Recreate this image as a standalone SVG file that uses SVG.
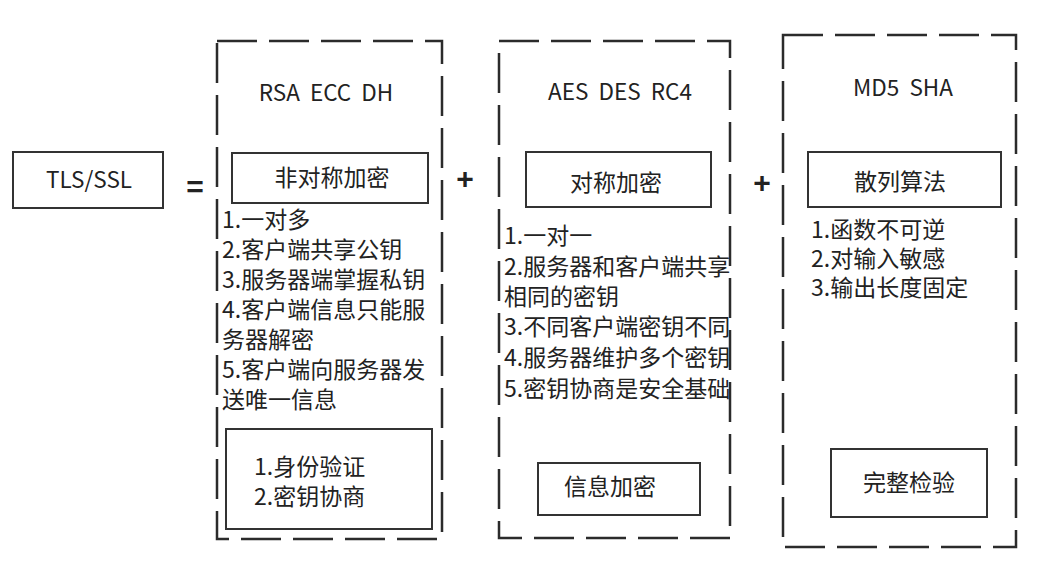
<svg xmlns="http://www.w3.org/2000/svg" width="1042" height="571" viewBox="0 0 1042 571">
<style>
text{font-family:"Noto Sans CJK SC","Noto Sans",sans-serif;fill:#222;}
.dash{fill:none;stroke:#2b2b2b;stroke-width:2.5;stroke-dasharray:40 12;}
.box{fill:#fff;stroke:#333;stroke-width:2;}
.t{font-size:22.5px;text-anchor:middle;white-space:pre;}
.h{font-size:23px;text-anchor:middle;}
.l{font-size:23px;}
.op{font-size:30px;font-weight:bold;text-anchor:middle;font-family:"Liberation Sans",sans-serif;}
</style>
<rect width="1042" height="571" fill="#fff"/>
<g id="tls">
<rect class="box" x="13" y="152" width="150" height="56"/>
<text x="89" y="188" font-size="22.5" text-anchor="middle">TLS/SSL</text>
</g>
<g id="ops">
<text class="op" x="195" y="197">=</text>
<text class="op" x="465" y="189">+</text>
<text class="op" x="762" y="193">+</text>
</g>
<g id="asym">
<rect class="dash" x="217" y="41" width="225" height="498"/>
<text class="t" x="326" y="101">RSA  ECC  DH</text>
<rect class="box" x="232" y="153" width="196" height="50"/>
<text class="h" x="332" y="186">非对称加密</text>
<text class="l" x="222" y="228">1.一对多</text>
<text class="l" x="222" y="258">2.客户端共享公钥</text>
<text class="l" x="222" y="288">3.服务器端掌握私钥</text>
<text class="l" x="222" y="318">4.客户端信息只能服</text>
<text class="l" x="222" y="348">务器解密</text>
<text class="l" x="222" y="378">5.客户端向服务器发</text>
<text class="l" x="222" y="408">送唯一信息</text>
<rect class="box" x="226" y="429" width="206" height="100"/>
<text class="l" x="254" y="475">1.身份验证</text>
<text class="l" x="254" y="505">2.密钥协商</text>
</g>
<g id="sym">
<rect class="dash" x="499" y="41" width="231" height="497"/>
<text class="t" x="620" y="100">AES  DES  RC4</text>
<rect class="box" x="526" y="152" width="185" height="55"/>
<text class="h" x="616" y="191">对称加密</text>
<text class="l" x="504" y="244">1.一对一</text>
<text class="l" x="504" y="275">2.服务器和客户端共享</text>
<text class="l" x="504" y="305">相同的密钥</text>
<text class="l" x="504" y="335">3.不同客户端密钥不同</text>
<text class="l" x="504" y="366">4.服务器维护多个密钥</text>
<text class="l" x="504" y="397">5.密钥协商是安全基础</text>
<rect class="box" x="538" y="463" width="162" height="52"/>
<text class="h" x="610" y="495">信息加密</text>
</g>
<g id="hash">
<rect class="dash" x="783" y="35" width="233" height="512"/>
<text class="t" x="903" y="96">MD5  SHA</text>
<rect class="box" x="808" y="152" width="193" height="55"/>
<text class="h" x="900" y="190">散列算法</text>
<text class="l" x="811" y="238">1.函数不可逆</text>
<text class="l" x="811" y="267">2.对输入敏感</text>
<text class="l" x="811" y="296">3.输出长度固定</text>
<rect class="box" x="831" y="449" width="156" height="68"/>
<text class="h" x="909" y="491">完整检验</text>
</g>
<g id="connectors"></g>
</svg>
